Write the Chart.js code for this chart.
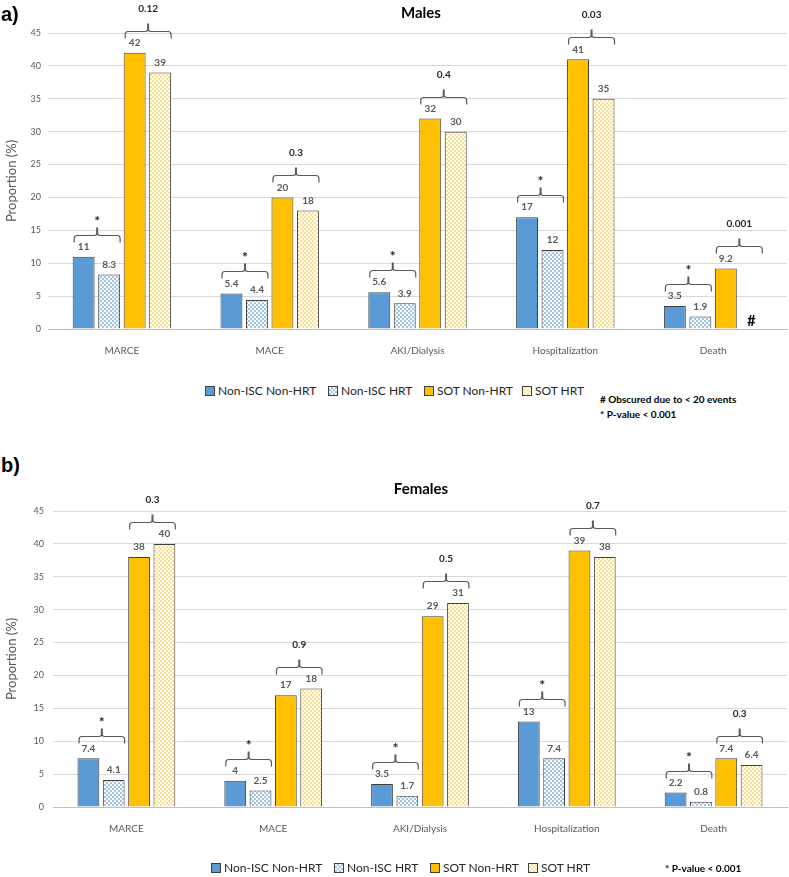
<!DOCTYPE html>
<html><head><meta charset="utf-8">
<script src="https://cdn.jsdelivr.net/npm/chart.js@4.4.1/dist/chart.umd.min.js"></script>
<style>
body{margin:0;background:#fff;width:789px;height:877px;position:relative;overflow:hidden;font-family:Lato,"Open Sans",sans-serif;}
canvas{position:absolute;left:0;}
.abs{position:absolute;white-space:nowrap;line-height:16px;}
.panel{font:bold 20px "Liberation Sans",Arial,sans-serif;color:#000;line-height:24px;}
.title{font:bold 15px Lato,sans-serif;color:#000;transform:translateX(-50%);line-height:18px;}
.leg{font:12px Lato,sans-serif;color:#262626;display:flex;align-items:center;}
.sw{width:8px;height:8px;border:1px solid #404040;margin-right:3px;}
.note{font:bold 10px Lato,sans-serif;color:#000;}
</style></head><body>
<canvas id="cA" width="789" height="360" style="top:0"></canvas>
<canvas id="cB" width="789" height="397" style="top:480px"></canvas>

<div class="abs panel" style="left:1px;top:2px">a)</div>
<div class="abs title" style="left:421px;top:3px">Males</div>
<div class="abs panel" style="left:1px;top:453px">b)</div>
<div class="abs title" style="left:421px;top:479px">Females</div>

<div id="legA"></div>
<div id="legB"></div>
<div class="abs note" style="left:600px;top:393px"># Obscured due to &lt; 20 events</div>
<div class="abs note" style="left:600px;top:408px">* P-value &lt; 0.001</div>
<div class="abs note" style="left:665px;top:862px">* P-value &lt; 0.001</div>

<script>
const categories = ['MARCE', 'MACE', 'AKI/Dialysis', 'Hospitalization', 'Death'];
const seriesNames = ['Non-ISC Non-HRT', 'Non-ISC HRT', 'SOT Non-HRT', 'SOT HRT'];
const yTickValues = [0, 5, 10, 15, 20, 25, 30, 35, 40, 45];

const malesNonIscNonHrt = [11, 5.4, 5.6, 17, 3.5];
const malesNonIscHrt    = [8.3, 4.4, 3.9, 12, 1.9];
const malesSotNonHrt    = [42, 20, 32, 41, 9.2];
const malesSotHrt       = [39, 18, 30, 35, null];
const malesNonIscP      = ['*', '*', '*', '*', '*'];
const malesSotP         = ['0.12', '0.3', '0.4', '0.03', '0.001'];

const femalesNonIscNonHrt = [7.4, 4, 3.5, 13, 2.2];
const femalesNonIscHrt    = [4.1, 2.5, 1.7, 7.4, 0.8];
const femalesSotNonHrt    = [38, 17, 29, 39, 7.4];
const femalesSotHrt       = [40, 18, 31, 38, 6.4];
const femalesNonIscP      = ['*', '*', '*', '*', '*'];
const femalesSotP         = ['0.3', '0.9', '0.5', '0.7', '0.3'];

const FONT = 'Lato, "Open Sans", sans-serif';
const BLUE = '#5b9bd5', GOLD = '#ffc000';
const BLUE_DOT = '#9fc3e7', GOLD_DOT = '#ffe08a';

function makePattern(fg) {
  const c = document.createElement('canvas'); c.width = 4; c.height = 4;
  const x = c.getContext('2d');
  x.fillStyle = '#fff'; x.fillRect(0, 0, 4, 4);
  x.fillStyle = fg; x.fillRect(0, 0, 2, 2); x.fillRect(2, 2, 2, 2);
  return x.createPattern(c, 'repeat');
}
const fills = [BLUE, makePattern(BLUE_DOT), GOLD, makePattern(GOLD_DOT)];
const cssFills = [BLUE,
  'repeating-conic-gradient(' + BLUE_DOT + ' 0 25%, #fff 0 50%) 0 0/4px 4px',
  GOLD,
  'repeating-conic-gradient(' + GOLD_DOT + ' 0 25%, #fff 0 50%) 0 0/4px 4px'];

function drawBracket(ctx, x1, x2, y) {
  const xc = (x1 + x2) / 2, r = 3, drop = 7, rise = 8;
  ctx.lineWidth = 1.2; ctx.strokeStyle = '#595959';
  ctx.beginPath();
  ctx.moveTo(x1, y + drop); ctx.lineTo(x1, y + r);
  ctx.quadraticCurveTo(x1, y, x1 + r, y);
  ctx.lineTo(xc - r, y); ctx.quadraticCurveTo(xc, y, xc, y - r);
  ctx.moveTo(xc, y - r); ctx.quadraticCurveTo(xc, y, xc + r, y);
  ctx.lineTo(x2 - r, y); ctx.quadraticCurveTo(x2, y, x2, y + r);
  ctx.lineTo(x2, y + drop);
  ctx.stroke();
  ctx.lineWidth = 2; ctx.beginPath();
  ctx.moveTo(xc, y - r + 1); ctx.lineTo(xc, y - rise); ctx.stroke();
}

const annotPlugin = {
  id: 'annot',
  afterDatasetsDraw(chart, args, opts) {
    const ctx = chart.ctx, ys = chart.scales.y;
    const metas = [0, 1, 2, 3].map(i => chart.getDatasetMeta(i));
    const ds = chart.data.datasets;
    ctx.save();
    ctx.textAlign = 'center';
    ctx.font = 'bold 10px ' + FONT; ctx.fillStyle = '#595959'; ctx.textBaseline = 'middle';
    for (let d = 0; d < 4; d++) {
      ds[d].data.forEach((v, i) => {
        if (v == null) return;
        const b = metas[d].data[i];
        ctx.fillText(String(v), b.x, b.y - 10);
      });
    }
    categories.forEach((c, i) => {
      const b0 = metas[0].data[i], b1 = metas[1].data[i];
      const step = b1.x - b0.x, w = b0.width;
      [[0, 1, opts.p1[i]], [2, 3, opts.p2[i]]].forEach(([a, bIdx, lab]) => {
        const xa = metas[a].data[i].x;
        const x1 = xa - w / 2 + 1.5, x2 = xa + step + w / 2;
        const vals = [ds[a].data[i], ds[bIdx].data[i]].filter(v => v != null);
        const ly = Math.round(ys.getPixelForValue(Math.max(...vals)) - 22) + 0.5;
        drawBracket(ctx, x1, x2, ly);
        ctx.fillStyle = '#262626';
        if (lab === '*') {
          ctx.font = 'bold 14px ' + FONT; ctx.textBaseline = 'alphabetic';
          ctx.fillText('*', (x1 + x2) / 2, ly - 10);
        } else {
          ctx.font = 'bold 10px ' + FONT; ctx.textBaseline = 'middle';
          ctx.fillText(lab, (x1 + x2) / 2, ly - 23);
        }
      });
      if (ds[3].data[i] == null) {
        const xm = metas[2].data[i].x + step;
        ctx.font = 'bold 15px ' + FONT; ctx.fillStyle = '#000'; ctx.textBaseline = 'middle';
        ctx.fillText('#', xm, ys.getPixelForValue(0) - 8);
      }
    });
    ctx.restore();
  }
};

function makeChart(id, series, p1, p2, leftW, xH, topPad, tickPad) {
  return new Chart(document.getElementById(id), {
    type: 'bar',
    data: {
      labels: categories,
      datasets: series.map((s, k) => ({
        label: seriesNames[k], data: s,
        backgroundColor: fills[k], borderColor: '#404040', borderWidth: 1,
        categoryPercentage: 0.69, barPercentage: 0.86
      }))
    },
    options: {
      responsive: false, animation: false, devicePixelRatio: 1,
      layout: { padding: { top: topPad, right: 2, left: 0, bottom: 0 } },
      plugins: { legend: { display: false }, title: { display: false }, tooltip: { enabled: false },
        annot: { p1: p1, p2: p2 } },
      scales: {
        x: {
          grid: { display: false },
          border: { color: '#bfbfbf' },
          ticks: { color: '#595959', font: { family: FONT, size: 10 }, padding: 8, maxRotation: 0 },
          afterFit: s => { s.height = xH; }
        },
        y: {
          min: 0, max: 45,
          afterBuildTicks: s => { s.ticks = yTickValues.map(v => ({ value: v })); },
          grid: { color: '#d9d9d9', drawTicks: false },
          border: { display: false },
          ticks: { color: '#595959', font: { family: FONT, size: 9 }, padding: tickPad },
          title: { display: true, text: 'Proportion (%)', color: '#595959',
            font: { family: FONT, size: 13 }, padding: { top: 4, bottom: 0 } },
          afterFit: s => { s.width = leftW; }
        }
      }
    },
    plugins: [annotPlugin]
  });
}

makeChart('cA', [malesNonIscNonHrt, malesNonIscHrt, malesSotNonHrt, malesSotHrt],
  malesNonIscP, malesSotP, 48, 31, 33, 7);
makeChart('cB', [femalesNonIscNonHrt, femalesNonIscHrt, femalesSotNonHrt, femalesSotHrt],
  femalesNonIscP, femalesSotP, 53, 70, 31, 9);

function buildLegend(elId, xs, yc) {
  const host = document.getElementById(elId);
  seriesNames.forEach((n, k) => {
    const d = document.createElement('div');
    d.className = 'abs leg';
    d.style.left = xs[k] + 'px'; d.style.top = (yc - 8) + 'px';
    const sw = document.createElement('span');
    sw.className = 'sw'; sw.style.background = cssFills[k];
    d.appendChild(sw); d.appendChild(document.createTextNode(n));
    host.appendChild(d);
  });
}
buildLegend('legA', [205, 328, 424, 522], 391);
buildLegend('legB', [211, 334, 430, 528], 868);
</script>
</body></html>
